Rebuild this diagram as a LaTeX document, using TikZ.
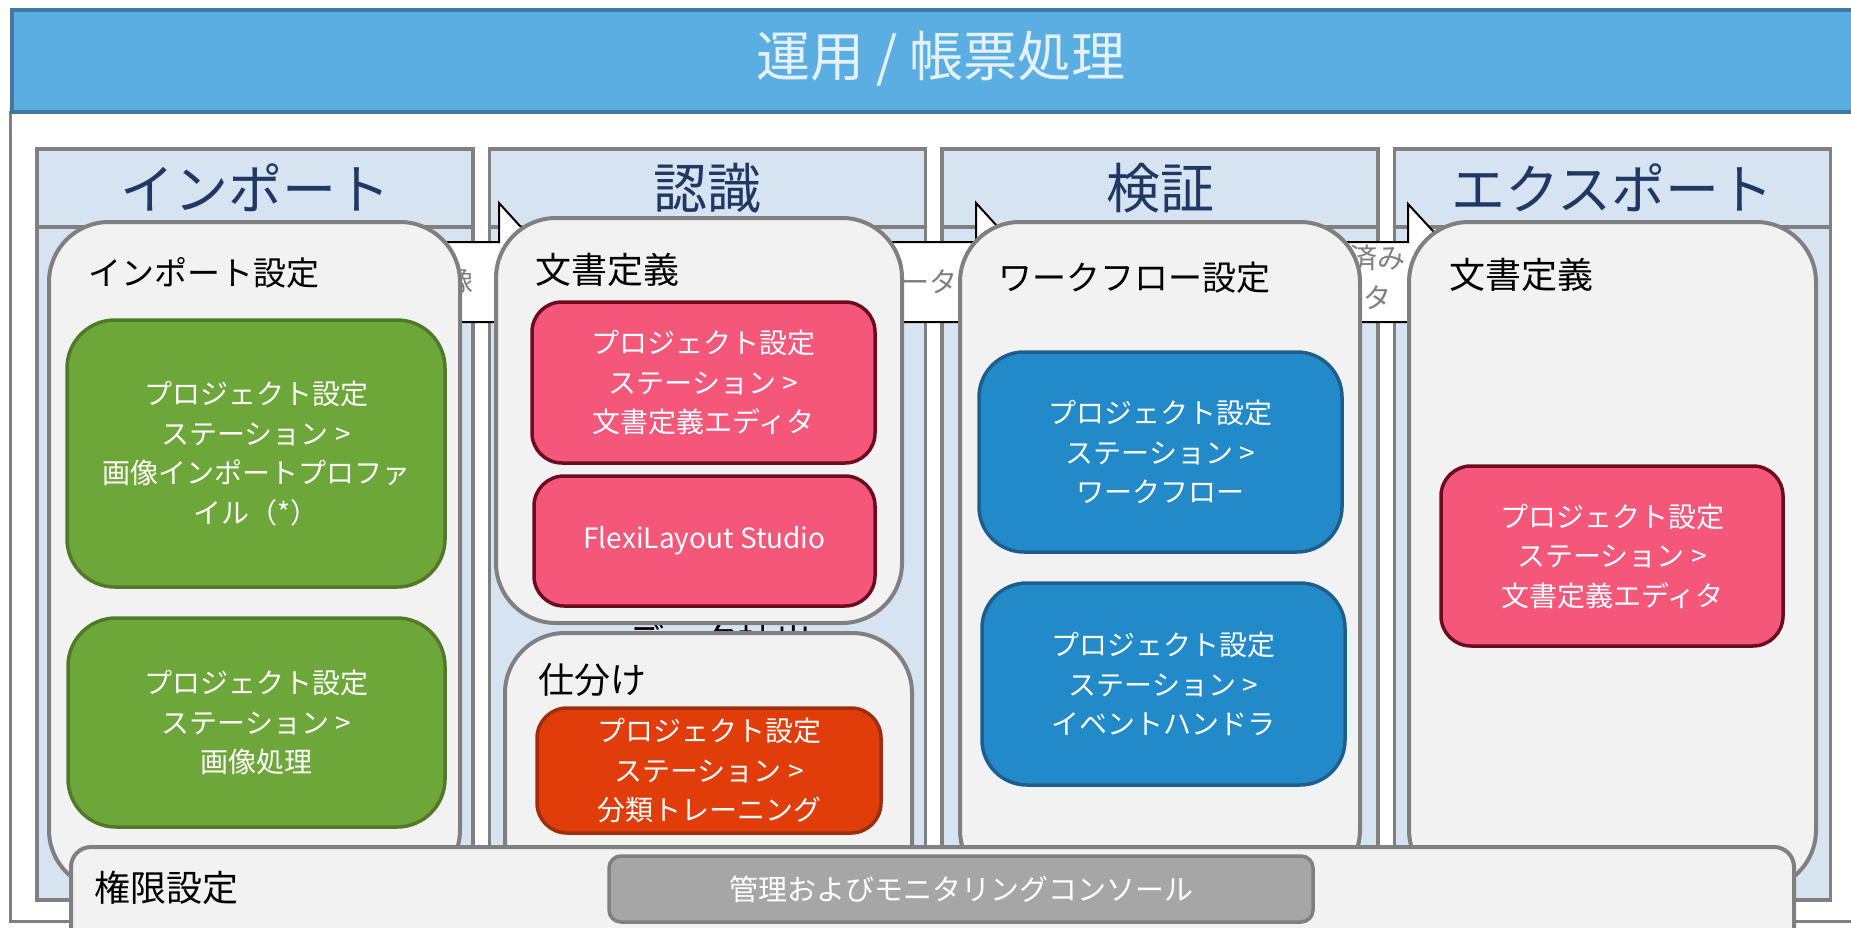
\documentclass[tikz,border=0pt]{standalone}
\usepackage{fontspec}
\setmainfont{Noto Sans CJK JP}
\definecolor{bandfill}{HTML}{5AAEE1}
\definecolor{banddraw}{HTML}{41789F}
\definecolor{bandtext}{HTML}{E4F0FA}
\definecolor{cgray}{HTML}{808080}
\definecolor{colfill}{HTML}{D6E4F2}
\definecolor{navy}{HTML}{1F3864}
\definecolor{panelfill}{HTML}{F2F2F2}
\definecolor{gfill}{HTML}{6DA73A}
\definecolor{gdraw}{HTML}{4F7B29}
\definecolor{pfill}{HTML}{F45779}
\definecolor{pdraw}{HTML}{6E0C1F}
\definecolor{ofill}{HTML}{E03D0B}
\definecolor{odraw}{HTML}{9E2F0C}
\definecolor{bfill}{HTML}{238ACA}
\definecolor{bdraw}{HTML}{1D5F8C}
\definecolor{btnfill}{HTML}{A6A6A6}
\definecolor{arrtextc}{HTML}{7F7F7F}
\tikzset{
  colhead/.style={draw=cgray, line width=3.5pt, fill=colfill, minimum width=436pt, minimum height=78pt, inner sep=0pt, font=\fontsize{54}{60}\selectfont, text=navy},
  colbody/.style={draw=cgray, line width=3.5pt, fill=colfill, minimum width=436pt, minimum height=673pt, inner sep=0pt},
  panel/.style={draw=cgray, line width=4pt, fill=panelfill, rounded corners=60pt, inner sep=0pt},
  ptitle/.style={anchor=west, inner sep=0pt, font=\fontsize{36}{40}\selectfont, text=black},
  cbox/.style={line width=3.5pt, text=white, align=center, inner sep=0pt, font=\fontsize{28}{39.5}\selectfont},
  greenbox/.style={cbox, fill=gfill, draw=gdraw, rounded corners=48pt},
  pinkbox/.style={cbox, fill=pfill, draw=pdraw, rounded corners=30pt},
  orangebox/.style={cbox, fill=ofill, draw=odraw, rounded corners=30pt},
  bluebox/.style={cbox, fill=bfill, draw=bdraw, rounded corners=45pt},
  blockarrow/.style={draw=black, line width=2pt, fill=white, line join=miter},
  arrtext/.style={inner sep=0pt, text=arrtextc, align=center, font=\fontsize{28}{40}\selectfont},
}
\begin{document}
\begin{tikzpicture}[x=1pt,y=-1pt]
\useasboundingbox (0,0) rectangle (1851,928);
\clip (0,0) rectangle (1851,928);
\fill[white] (0,0) rectangle (1851,928);
% outer frame and title band
\node[draw=cgray, line width=3pt, fill=white, minimum width=1890pt, minimum height=808pt, inner sep=0pt] (frame) at (955,517) {};
\node[draw=banddraw, line width=4pt, fill=bandfill, minimum width=1888pt, minimum height=102pt, inner sep=0pt] (band) at (956,61) {};
\node[inner sep=0pt, text=bandtext, font=\fontsize{54}{60}\selectfont] (title) at (941,59) {運用 / 帳票処理};
% columns
\node[colbody] (c1b) at (255,563.5) {};
\node[colbody] (c2b) at (707.5,563.5) {};
\node[colbody] (c3b) at (1160,563.5) {};
\node[colbody] (c4b) at (1612.5,563.5) {};
\node[colhead] (c1h) at (255,188) {インポート};
\node[colhead] (c2h) at (707.5,188) {認識};
\node[colhead] (c3h) at (1160,188) {検証};
\node[colhead] (c4h) at (1612.5,188) {エクスポート};
% block arrows between columns
\draw[blockarrow] (380,242) -- (499,242) -- (499,203) -- (571,282) -- (499,361) -- (499,322) -- (380,322) -- cycle;
\node[arrtext] (a1t) at (445,281) {画像};
\draw[blockarrow] (840,242) -- (976,242) -- (976,203) -- (1048,282) -- (976,361) -- (976,322) -- (840,322) -- cycle;
\node[arrtext] (a2t) at (915,281) {データ};
\draw[blockarrow] (1290,242) -- (1408,242) -- (1408,204) -- (1480,282) -- (1408,360) -- (1408,322) -- (1290,322) -- cycle;
\node[arrtext] (a3t) at (1349,278) {検証済み\\データ};
% hidden label in recognition column
\node[inner sep=0pt, text=black, font=\fontsize{37}{40}\selectfont] (extract) at (720,640) {データ抽出};
% panels
\node[panel, minimum width=411pt, minimum height=668pt] (P1) at (254.5,556) {};
\node[ptitle, font=\fontsize{33}{40}\selectfont] (P1t) at (88,273) {インポート設定};
\node[panel, minimum width=406pt, minimum height=405pt] (P2) at (699,420.5) {};
\node[ptitle] (P2t) at (535,270) {文書定義};
\node[panel, minimum width=407pt, minimum height=290pt] (PS) at (708.5,778) {};
\node[ptitle] (PSt) at (538,680) {仕分け};
\node[panel, minimum width=400pt, minimum height=668pt] (P3) at (1160,556) {};
\node[ptitle, font=\fontsize{34}{40}\selectfont] (P3t) at (998,278) {ワークフロー設定};
\node[panel, minimum width=407pt, minimum height=668pt] (P4) at (1612.5,556) {};
\node[ptitle] (P4t) at (1449,275) {文書定義};
% coloured boxes
\node[greenbox, minimum width=378pt, minimum height=267pt] (g1) at (256,453.5) {プロジェクト設定\\ステーション >\\画像インポートプロファ\\イル（*）};
\node[greenbox, minimum width=377pt, minimum height=209pt] (g2) at (256.5,722.5) {プロジェクト設定\\ステーション >\\画像処理};
\node[pinkbox, minimum width=343pt, minimum height=161pt] (pk1) at (703.5,382.5) {プロジェクト設定\\ステーション >\\文書定義エディタ};
\node[pinkbox, minimum width=341pt, minimum height=130pt] (pk2) at (704.5,541) {FlexiLayout Studio};
\node[orangebox, minimum width=344pt, minimum height=125pt] (or1) at (709,770.5) {プロジェクト設定\\ステーション >\\分類トレーニング};
\node[bluebox, minimum width=363pt, minimum height=200pt] (bl1) at (1160.5,452) {プロジェクト設定\\ステーション >\\ワークフロー};
\node[bluebox, minimum width=363pt, minimum height=202pt] (bl2) at (1163.5,684) {プロジェクト設定\\ステーション >\\イベントハンドラ};
\node[pinkbox, minimum width=342pt, minimum height=180pt] (pk3) at (1612,556) {プロジェクト設定\\ステーション >\\文書定義エディタ};
% permissions panel
\node[draw=cgray, line width=4pt, fill=panelfill, rounded corners=20pt, minimum width=1723pt, minimum height=153pt, inner sep=0pt] (auth) at (932.5,923.5) {};
\node[ptitle] (autht) at (94,888) {権限設定};
\node[draw=cgray, line width=3.5pt, fill=btnfill, rounded corners=12pt, minimum width=704pt, minimum height=66pt, inner sep=0pt, text=white, font=\fontsize{29}{34}\selectfont] (console) at (961,889) {管理およびモニタリングコンソール};
\end{tikzpicture}
\end{document}
